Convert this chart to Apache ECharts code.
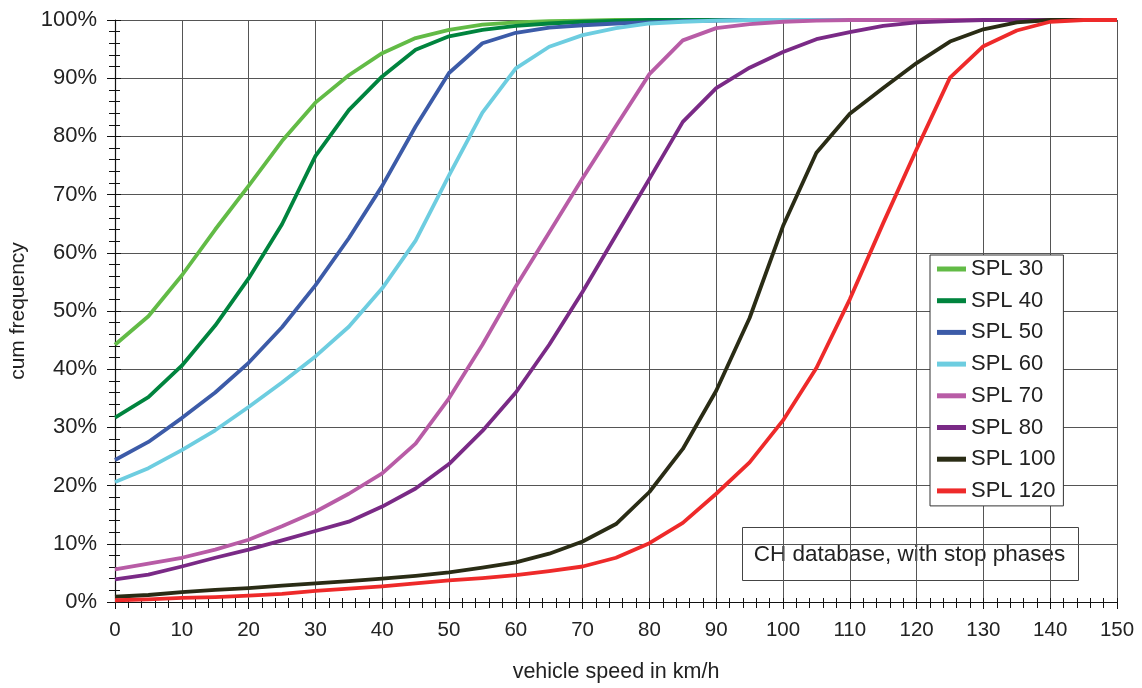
<!DOCTYPE html>
<html>
<head>
<meta charset="utf-8">
<script src="https://cdn.jsdelivr.net/npm/echarts@6/dist/echarts.min.js"></script>
<style>
  html, body { margin: 0; padding: 0; background: #fff; }
  #chart { width: 1142px; height: 688px; }
</style>
</head>
<body>
<div id="chart"></div>
<script>
// vehicle speed classes in km/h
const speeds = [0, 5, 10, 15, 20, 25, 30, 35, 40, 45, 50, 55, 60, 65, 70, 75,
  80, 85, 90, 95, 100, 105, 110, 115, 120, 125, 130, 135, 140, 145, 150];

// cumulative frequency (%) per speed limit
const spl30 = [44.2, 49.1, 56.1, 64.0, 71.5, 79.2, 85.8, 90.5, 94.3, 96.9, 98.3, 99.2, 99.6, 99.8, 99.9, 100,
  100, 100, 100, 100, 100, 100, 100, 100, 100, 100, 100, 100, 100, 100, 100];
const spl40 = [31.7, 35.2, 40.6, 47.5, 55.6, 64.9, 76.6, 84.5, 90.3, 94.9, 97.2, 98.3, 99.0, 99.4, 99.7, 99.85,
  100, 100, 100, 100, 100, 100, 100, 100, 100, 100, 100, 100, 100, 100, 100];
const spl50 = [24.4, 27.5, 31.6, 36.0, 41.1, 47.2, 54.4, 62.5, 71.5, 81.7, 90.9, 96.0, 97.8, 98.7, 99.1, 99.4,
  99.6, 99.8, 99.9, 100, 100, 100, 100, 100, 100, 100, 100, 100, 100, 100, 100];
const spl60 = [20.6, 23.0, 26.1, 29.5, 33.5, 37.7, 42.2, 47.3, 53.9, 62.1, 73.3, 84.1, 91.7, 95.4, 97.4, 98.6,
  99.4, 99.7, 99.9, 100, 100, 100, 100, 100, 100, 100, 100, 100, 100, 100, 100];
const spl70 = [5.6, 6.6, 7.6, 9.0, 10.7, 13.0, 15.5, 18.6, 22.1, 27.2, 35.0, 44.2, 54.2, 63.5, 72.8, 81.8,
  90.7, 96.5, 98.6, 99.3, 99.7, 99.9, 100, 100, 100, 100, 100, 100, 100, 100, 100];
const spl80 = [3.9, 4.7, 6.1, 7.6, 9.0, 10.6, 12.2, 13.8, 16.4, 19.5, 23.7, 29.4, 36.0, 44.2, 53.3, 63.0,
  72.7, 82.5, 88.3, 91.8, 94.5, 96.7, 97.9, 99.0, 99.6, 99.8, 100, 100, 100, 100, 100];
const spl100 = [0.9, 1.2, 1.7, 2.1, 2.4, 2.8, 3.2, 3.6, 4.0, 4.5, 5.1, 5.9, 6.8, 8.3, 10.4, 13.4,
  18.9, 26.3, 36.3, 48.8, 64.6, 77.2, 83.9, 88.3, 92.6, 96.3, 98.4, 99.6, 100, 100, 100];
const spl120 = [0.3, 0.45, 0.7, 0.85, 1.1, 1.4, 1.9, 2.3, 2.7, 3.2, 3.7, 4.1, 4.6, 5.3, 6.1, 7.6,
  10.1, 13.6, 18.6, 24.0, 31.2, 40.2, 52.0, 65.1, 77.8, 90.1, 95.5, 98.2, 99.7, 100, 100];

const seriesNames = ['SPL 30', 'SPL 40', 'SPL 50', 'SPL 60', 'SPL 70', 'SPL 80', 'SPL 100', 'SPL 120'];
const seriesValues = [spl30, spl40, spl50, spl60, spl70, spl80, spl100, spl120];
const seriesColors = ['#62bb46', '#00843e', '#3c5ba8', '#6dcde0', '#b85ca6', '#7a2a86', '#2a2c15', '#ee2a2a'];

const noteText = 'CH database, with stop phases';
const xName = 'vehicle speed in km/h';
const yName = 'cum frequency';

const FONT = '"Liberation Sans", Arial, sans-serif';
const TXT = '#222';

const chart = echarts.init(document.getElementById('chart'), null, { renderer: 'canvas' });

const baseX = { type: 'value', min: 0, max: 150, interval: 10 };
const baseY = { type: 'value', min: 0, max: 100, interval: 10 };

chart.setOption({
  animation: false,
  backgroundColor: '#fff',
  grid: { left: 115, right: 25, top: 20, bottom: 81, containLabel: false },
  legend: {
    orient: 'vertical',
    left: 930,
    top: 255,
    data: seriesNames,
    icon: 'rect',
    itemWidth: 29,
    itemHeight: 5,
    itemGap: 9.7,
    padding: [3, 8, 4, 7],
    backgroundColor: '#fff',
    borderColor: '#333',
    borderWidth: 1,
    borderRadius: 0,
    textStyle: { fontFamily: FONT, fontSize: 22, color: TXT, lineHeight: 22, padding: [0, 0, 0, 0] }
  },
  xAxis: [
    Object.assign({}, baseX, {
      name: xName,
      nameLocation: 'middle',
      nameGap: 59,
      nameTextStyle: { fontFamily: FONT, fontSize: 21.5, color: TXT },
      axisLine: { show: true, lineStyle: { color: '#111', width: 1.2 } },
      axisTick: { show: true, inside: false, length: 7, lineStyle: { color: '#111' } },
      minorTick: { show: true, splitNumber: 5, length: 6, lineStyle: { color: '#111' } },
      axisLabel: { margin: 18, fontFamily: FONT, fontSize: 20.5, color: TXT },
      splitLine: { show: true, lineStyle: { color: '#555', width: 1 } },
      minorSplitLine: { show: false }
    }),
    Object.assign({}, baseX, {
      position: 'bottom',
      axisLine: { show: false },
      axisTick: { show: true, inside: true, length: 4, lineStyle: { color: '#111' } },
      minorTick: { show: true, splitNumber: 5, length: 4, lineStyle: { color: '#111' } },
      axisLabel: { show: false },
      splitLine: { show: false }
    })
  ],
  yAxis: [
    Object.assign({}, baseY, {
      name: yName,
      nameLocation: 'middle',
      nameGap: 86,
      nameRotate: 90,
      nameTextStyle: { fontFamily: FONT, fontSize: 21, color: TXT },
      axisLine: { show: true, lineStyle: { color: '#111', width: 1.2 } },
      axisTick: { show: true, inside: false, length: 8, lineStyle: { color: '#111' } },
      minorTick: { show: true, splitNumber: 5, length: 6, lineStyle: { color: '#111' } },
      axisLabel: { margin: 18, fontFamily: FONT, fontSize: 22, color: TXT, formatter: '{value}%' },
      splitLine: { show: true, lineStyle: { color: '#555', width: 1 } }
    }),
    Object.assign({}, baseY, {
      position: 'left',
      axisLine: { show: false },
      axisTick: { show: true, inside: true, length: 6, lineStyle: { color: '#111' } },
      minorTick: { show: true, splitNumber: 5, length: 5, lineStyle: { color: '#111' } },
      axisLabel: { show: false },
      splitLine: { show: false }
    })
  ],
  series: seriesNames.map((name, i) => ({
    name: name,
    type: 'line',
    xAxisIndex: 0,
    yAxisIndex: 0,
    data: speeds.map((v, k) => [v, seriesValues[i][k]]),
    symbol: 'none',
    smooth: false,
    color: seriesColors[i],
    lineStyle: { color: seriesColors[i], width: 3.8, join: 'round' },
    emphasis: { disabled: true },
    z: 2 + i
  })),
  graphic: [
    {
      type: 'group',
      left: 742,
      top: 527,
      z: 100,
      children: [
        {
          type: 'rect',
          shape: { x: 0, y: 0, width: 336, height: 53 },
          style: { fill: '#fff', stroke: '#444', lineWidth: 1 }
        },
        {
          type: 'text',
          x: 167,
          y: 27,
          style: {
            text: noteText,
            fontFamily: FONT,
            fontSize: 22.5,
            fill: TXT,
            align: 'center',
            verticalAlign: 'middle'
          }
        }
      ]
    }
  ]
});
</script>
</body>
</html>
